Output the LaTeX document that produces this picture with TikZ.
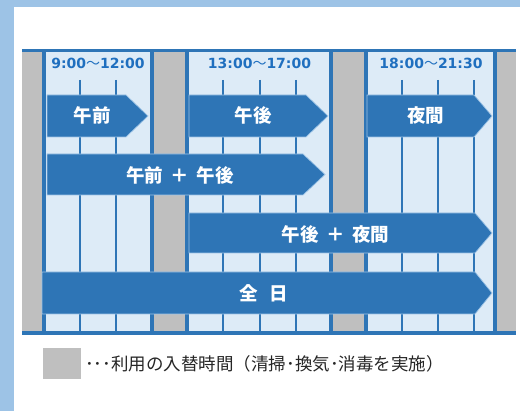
\documentclass[tikz,border=0pt]{standalone}
\usepackage{fontspec}
\newfontfamily\jp{Noto Sans CJK JP}
\newfontfamily\dv{DejaVu Sans}
\definecolor{framec}{HTML}{9DC3E6}
\definecolor{barc}{HTML}{2E75B6}
\definecolor{cellc}{HTML}{DDEBF7}
\definecolor{grayc}{HTML}{BFBFBF}
\definecolor{headc}{HTML}{1F6FBF}
\definecolor{legc}{HTML}{262626}
\newcommand{\pbar}[5]{% x1, notch, tip, y1, y2
  \fill[barc,draw=framec,line width=0.7pt] (#1,#4) -- (#2,#4) -- (#3,{(#4+#5)/2}) -- (#2,#5) -- (#1,#5) -- cycle;}
\tikzset{
  bartext/.style={text=white,font=\jp\bfseries\fontsize{18.5}{18.5}\selectfont,inner sep=0pt,anchor=center},
  headtext/.style={text=headc,font=\dv\bfseries\fontsize{14}{14}\selectfont,inner sep=0pt,anchor=center},
  legtext/.style={text=legc,font=\jp\fontsize{17.5}{17.5}\selectfont,inner sep=0pt,anchor=west}
}
\begin{document}
\begin{tikzpicture}[x=1pt,y=-1pt]
\useasboundingbox (0,0) rectangle (520,411);
\fill[framec] (0,0) rectangle (520,411);
\fill[white] (14,7) rectangle (520,411);
% grid base
\fill[barc] (22,49) rectangle (516,335);
\foreach \a/\b in {22/42,154/185,333/364,497/516}
  \fill[grayc] (\a,52) rectangle (\b,331);
\foreach \a/\b in {46/150,189/329,368/493}
  \fill[cellc] (\a,52) rectangle (\b,331);
\foreach \x in {80,116,223,259.5,295.5,402,438,474}
  \draw[barc,line width=2pt] (\x,80) -- (\x,331);
% headers
\node[headtext] (h1) at (98,63.5) {9:00{\jp\mdseries ～}12:00};
\node[headtext] (h2) at (259.5,63.5) {13:00{\jp\mdseries ～}17:00};
\node[headtext] (h3) at (431,63.5) {18:00{\jp\mdseries ～}21:30};
% bars
\pbar{47}{126}{148}{95}{137}
\pbar{189}{306}{328}{95}{137}
\pbar{367}{474}{492}{95}{137}
\pbar{47}{303}{325}{154}{195}
\pbar{189}{475}{492}{213}{253}
\pbar{42}{475}{492}{272}{314}
\node[bartext] (b1) at (92,115.5) {午前};
\node[bartext] (b2) at (253,115.5) {午後};
\node[bartext] (b3) at (425.5,115.5) {夜間};
\node[bartext] (b4) at (180,175) {午前\hspace{0.4em}＋\hspace{0.4em}午後};
\node[bartext] (b5) at (335.5,234.5) {午後\hspace{0.4em}＋\hspace{0.4em}夜間};
\node[bartext] (b6) at (263.5,293) {全\hspace{0.6em}日};
% legend
\fill[grayc] (43,348) rectangle (81,379);
\node[legtext] (leg) at (85,363.5) {･･･利用の入替時間（清掃･換気･消毒を実施）};
\end{tikzpicture}
\end{document}
